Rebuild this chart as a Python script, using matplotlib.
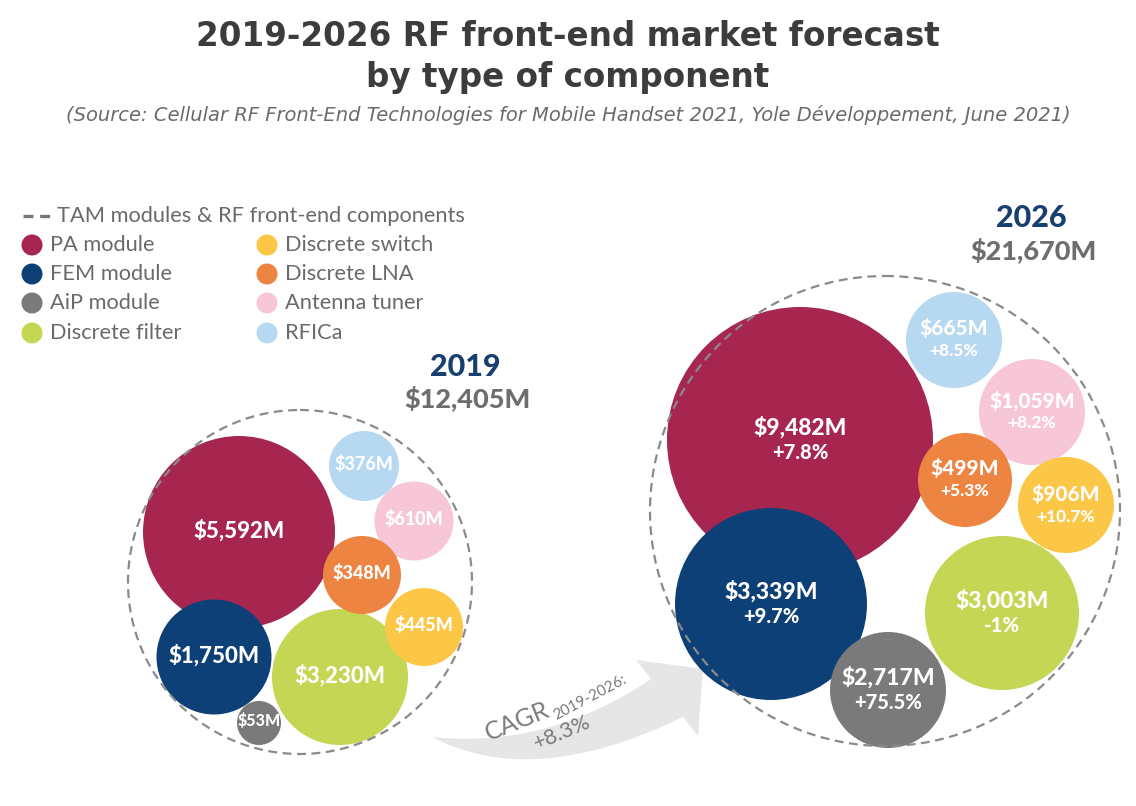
import matplotlib
matplotlib.use("Agg")
import matplotlib.pyplot as plt
from matplotlib.patches import Circle, PathPatch
from matplotlib.path import Path

# ---------------- data ----------------
components = ["PA module", "FEM module", "AiP module", "Discrete filter",
              "Discrete switch", "Discrete LNA", "Antenna tuner", "RFICa"]
values_2019 = [5592, 1750, 53, 3230, 445, 348, 610, 376]          # $M
values_2026 = [9482, 3339, 2717, 3003, 906, 499, 1059, 665]       # $M
cagr_2019_2026 = [7.8, 9.7, 75.5, -1, 10.7, 5.3, 8.2, 8.5]        # %
total_2019 = 12405
total_2026 = 21670
total_cagr = 8.3

colors = ["#A62650", "#0E4078", "#7A7A7A", "#C5D655",
          "#FCC646", "#EE8442", "#F7C7D8", "#B6D8F0"]

# ---------------- layout (pixel space) ----------------
centers_2019 = [(239, 532), (214, 657), (259, 723), (340, 677),
                (424, 627), (362, 575), (414, 521), (364, 466)]
radii_2019 = [96, 57.5, 22, 68, 39, 39, 39.5, 35]
outer_2019 = ((300, 582), 172)

centers_2026 = [(800, 440), (771, 604), (888, 690), (1002, 613),
                (1066, 505), (965, 480), (1032, 412), (954, 340)]
radii_2026 = [133, 96, 58, 77, 48, 47, 53, 48]
outer_2026 = ((885, 511), 235)

draw_order = [0, 1, 3, 6, 7, 4, 5, 2]

W, H = 1136, 806
fig = plt.figure(figsize=(W / 100, H / 100), dpi=100)
ax = fig.add_axes([0, 0, 1, 1])
ax.set_xlim(0, W)
ax.set_ylim(H, 0)
ax.axis("off")

FONT = "Lato"
TITLE_FONT = "DejaVu Sans"
LABEL_W = "black"

def money(v):
    return f"${v:,}M"

def pct(v):
    return f"{v:+g}%"

# ---------------- title ----------------
ax.text(568, 36, "2019-2026 RF front-end market forecast", ha="center", va="center",
        fontsize=23.5, fontweight="bold", color="#3C3C3C", family=TITLE_FONT)
ax.text(568, 77, "by type of component", ha="center", va="center",
        fontsize=23.5, fontweight="bold", color="#3C3C3C", family=TITLE_FONT)
ax.text(568, 115, "(Source: Cellular RF Front-End Technologies for Mobile Handset 2021, "
        "Yole Développement, June 2021)", ha="center", va="center",
        fontsize=14, style="italic", color="#6B6B6B", family=TITLE_FONT)

# ---------------- legend ----------------
ax.plot([23, 50], [216, 216], color="#777777", lw=2.4, ls=(0, (3, 2)))
ax.text(57, 216, "TAM modules & RF front-end components", ha="left", va="center",
        fontsize=15.7, color="#6A6A6A", family=FONT)
leg_rows = [245, 274, 303, 333]
for i, name in enumerate(components):
    col = i // 4
    row = i % 4
    cx = 32 if col == 0 else 267
    tx = 50 if col == 0 else 285
    y = leg_rows[row]
    ax.add_patch(Circle((cx, y), 10.5, color=colors[i], lw=0))
    ax.text(tx, y, name, ha="left", va="center", fontsize=15.7,
            color="#6A6A6A", family=FONT)

# ---------------- CAGR arrow ----------------
p0 = (432, 737)
upper_join = (651, 679)
lower_join = (683, 717)
verts = [p0, (548, 749), upper_join,
         (636, 660), (703, 669), (698, 736),
         lower_join, (533, 790), p0]
codes = [Path.MOVETO, Path.CURVE3, Path.CURVE3,
         Path.LINETO, Path.LINETO, Path.LINETO,
         Path.LINETO, Path.CURVE3, Path.CURVE3]
ax.add_patch(PathPatch(Path(verts, codes), facecolor="#E6E6E6", edgecolor="none", zorder=1))
ax.text(517, 721, "CAGR", rotation=22, ha="center", va="center", fontsize=18,
        color="#7A7A7A", family=FONT, zorder=2)
ax.text(590, 698, "2019-2026:", rotation=28, ha="center", va="center", fontsize=11,
        color="#7A7A7A", family=FONT, zorder=2)
ax.text(562, 733, f"{total_cagr:+.1f}%", rotation=23, ha="center", va="center",
        fontsize=15.5, color="#7A7A7A", family=FONT, zorder=2)

# ---------------- bubbles 2019 ----------------
for z, i in enumerate(draw_order):
    ax.add_patch(Circle(centers_2019[i], radii_2019[i], color=colors[i], lw=0, zorder=3 + z))
for i in range(len(components)):
    r = radii_2019[i]
    fs = 16 if r > 50 else (13 if r > 30 else 11.5)
    ax.text(centers_2019[i][0], centers_2019[i][1] - 2, money(values_2019[i]),
            ha="center", va="center", fontsize=fs, fontweight=LABEL_W,
            color="white", family=FONT, zorder=20)
(ocx, ocy), orr = outer_2019
ax.add_patch(Circle((ocx, ocy), orr, fill=False, edgecolor="#8A8A8A", lw=1.6,
                    ls=(0, (4, 2.5)), zorder=25))
ax.text(465, 367, "2019", ha="center", va="center", fontsize=22, fontweight="black",
        color="#173F6F", family=FONT)
ax.text(467, 398, f"${total_2019:,}M", ha="center", va="center", fontsize=19.5,
        fontweight="black", color="#6E6E6E", family=FONT)

# ---------------- bubbles 2026 ----------------
for z, i in enumerate(draw_order):
    ax.add_patch(Circle(centers_2026[i], radii_2026[i], color=colors[i], lw=0, zorder=3 + z))
for i in range(len(components)):
    r = radii_2026[i]
    fs1 = 16.5 if r > 55 else 15
    fs2 = 14.5 if r > 55 else 12.5
    cx, cy = centers_2026[i]
    off = 12.5 if r > 55 else 11.5
    ax.text(cx, cy - off, money(values_2026[i]), ha="center", va="center",
            fontsize=fs1, fontweight=LABEL_W, color="white", family=FONT, zorder=20)
    ax.text(cx, cy + off, pct(cagr_2019_2026[i]), ha="center", va="center",
            fontsize=fs2, fontweight=LABEL_W, color="white", family=FONT, zorder=20)
(ocx, ocy), orr = outer_2026
ax.add_patch(Circle((ocx, ocy), orr, fill=False, edgecolor="#8A8A8A", lw=1.6,
                    ls=(0, (4, 2.5)), zorder=25))
ax.text(1031, 218, "2026", ha="center", va="center", fontsize=22, fontweight="black",
        color="#173F6F", family=FONT)
ax.text(1033, 250, f"${total_2026:,}M", ha="center", va="center", fontsize=19.5,
        fontweight="black", color="#6E6E6E", family=FONT)

fig.savefig("out.png", dpi=100, facecolor="white")
